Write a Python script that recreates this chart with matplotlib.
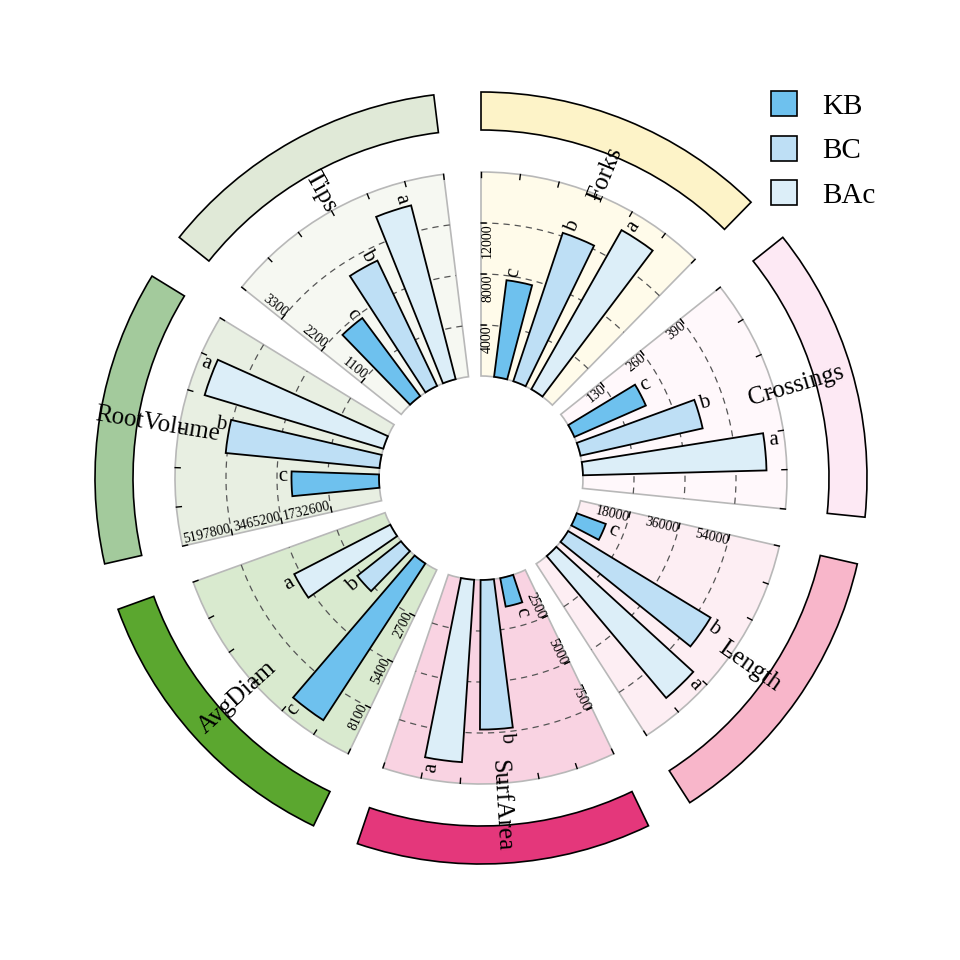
import numpy as np
import matplotlib
matplotlib.use("Agg")
import matplotlib.pyplot as plt
from matplotlib.patches import Patch

plt.rcParams['font.family'] = ['Liberation Serif', 'DejaVu Serif']

# ---- data ----
categories = ['Forks', 'Crossings', 'Length', 'SurfArea', 'AvgDiam', 'RootVolume', 'Tips']
groups = ['KB', 'BC', 'BAc']
kb_vals = [7640, 199, 10940, 1420, 9900, 2973000, 2096]
bc_vals = [12270, 319, 58840, 7330, 2950, 5249000, 2994]
bac_vals = [14350, 468, 65470, 8960, 5720, 6336000, 3870]
kb_sig = ['c', 'c', 'c', 'c', 'c', 'c', 'c']
bc_sig = ['b', 'b', 'b', 'b', 'b', 'b', 'b']
bac_sig = ['a', 'a', 'a', 'a', 'a', 'a', 'a']
grid_step = [4000, 130, 18000, 2500, 2700, 1732600, 1100]

group_colors = ['#6ec1ee', '#bedff5', '#dceef8']
sector_bg = ['#fffbea', '#fff8fb', '#fdeef3', '#f9d3e2', '#d9eacf', '#e8efe2', '#f6f8f2']
ring_colors = ['#fdf3c8', '#fde9f4', '#f8b6ca', '#e4377b', '#5ba72f', '#a3ca9c', '#e0e9d7']

# ---- geometry (radius in pixels) ----
R_IN, R_OUT = 102, 306
RING_IN, RING_OUT = 348, 386
LABEL_R = 328
SPAN = 44.4                 # degrees per sector
STEP = 360 / len(categories)
UNIT = SPAN / 6


def radial_rot(deg):
    d = (deg + 180) % 360 - 180
    if -90 <= d <= 90:
        return d, False
    return (d - 180 if d > 0 else d + 180), True


fig = plt.figure(figsize=(9.6, 9.6), dpi=100)
cx, cy = 481 / 960, 1 - 478 / 960
ax = fig.add_axes([cx - 0.5, cy - 0.5, 1, 1], projection='polar')
ax.set_ylim(0, 480)
ax.set_axis_off()

values = [kb_vals, bc_vals, bac_vals]
sigs = [kb_sig, bc_sig, bac_sig]
rad = np.deg2rad

for k, name in enumerate(categories):
    st = 90 - k * STEP
    mid = st - SPAN / 2
    vmax = grid_step[k] * 4
    scale = (R_OUT - R_IN) / vmax

    # sector background
    ax.bar(rad(mid), R_OUT - R_IN, width=rad(SPAN), bottom=R_IN,
           color=sector_bg[k], edgecolor='#b8b8b8', linewidth=1.2, zorder=1)
    # outer ring
    ax.bar(rad(mid), RING_OUT - RING_IN, width=rad(SPAN), bottom=RING_IN,
           color=ring_colors[k], edgecolor='black', linewidth=1.2, zorder=1)

    # dashed radial grid + labels on the start edge
    th = np.linspace(rad(st), rad(st - SPAN), 120)
    rot, flip = radial_rot(st)
    for i in range(1, 4):
        g = grid_step[k] * i
        r = R_IN + g * scale
        ax.plot(th, np.full_like(th, r), ls=(0, (5, 4)), color='#555555',
                lw=0.9, zorder=2)
        ax.plot([rad(st), rad(st) - 5 / r], [r, r], color='black', lw=0.9, zorder=2)
        ax.text(rad(st), r, f"{g}", rotation=rot, rotation_mode='anchor',
                ha='right', va='bottom' if flip else 'top', fontsize=10, zorder=5)

    # outer tick marks
    for t in range(7):
        a = rad(st - t * UNIT)
        ax.plot([a, a], [R_OUT - 5, R_OUT], color='black', lw=1.0, zorder=3)

    # bars
    for j in range(3):
        v = values[j][k]
        a = st - (1.5 + 1.5 * j) * UNIT
        ax.bar(rad(a), v * scale, width=rad(7.5), bottom=R_IN,
               color=group_colors[j], edgecolor='black', linewidth=1.3, zorder=4)
        lr, lflip = radial_rot(a)
        off = -2.2 if lflip else 2.2
        ax.text(rad(a + off), R_IN + v * scale + 9, sigs[j][k], rotation=lr,
                rotation_mode='anchor', ha='center', va='center',
                fontsize=15, zorder=6)

    # sector name
    nr, _ = radial_rot(mid)
    ax.text(rad(mid), LABEL_R, name, rotation=nr, rotation_mode='anchor',
            ha='center', va='center', fontsize=18, zorder=6)

handles = [Patch(facecolor=c, edgecolor='black', linewidth=1.2, label=g)
           for g, c in zip(groups, group_colors)]
fig.legend(handles=handles, loc='upper left', bbox_to_anchor=(771 / 960, 1 - 91 / 960),
           frameon=False, fontsize=21, handlelength=0.9, handleheight=0.95,
           labelspacing=0.55, handletextpad=0.85, borderaxespad=0, borderpad=0)

fig.savefig('out.png', dpi=100)
